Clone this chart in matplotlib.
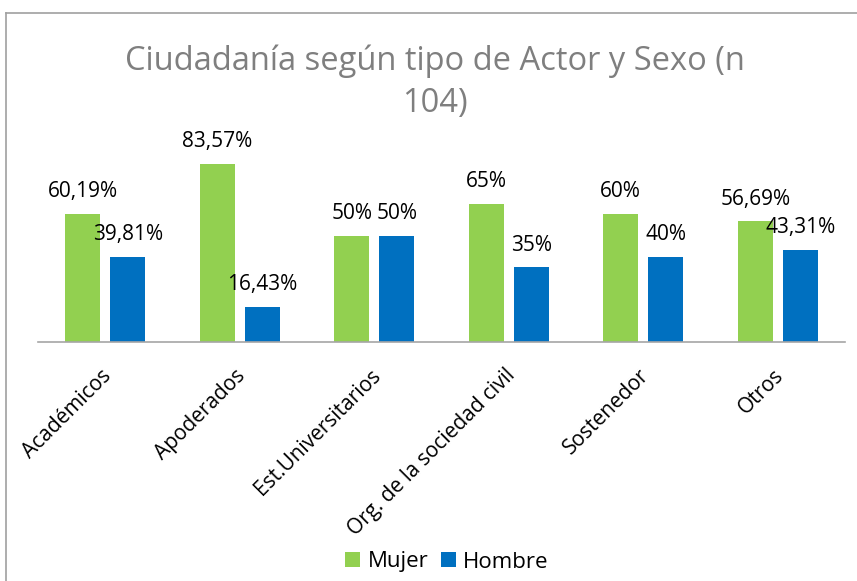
import matplotlib.pyplot as plt
from matplotlib.lines import Line2D
from matplotlib.transforms import ScaledTranslation
import numpy as np

categories = ['Académicos', 'Apoderados', 'Est.Universitarios',
              'Org. de la sociedad civil', 'Sostenedor', 'Otros']
mujer = [60.19, 83.57, 50, 65, 60, 56.69]
hombre = [39.81, 16.43, 50, 35, 40, 43.31]
mujer_labels = ['60,19%', '83,57%', '50%', '65%', '60%', '56,69%']
hombre_labels = ['39,81%', '16,43%', '50%', '35%', '40%', '43,31%']

plt.rcParams['font.family'] = ['Open Sans', 'DejaVu Sans']

fig = plt.figure(figsize=(8.57, 5.81), dpi=100)
ax = fig.add_axes([38 / 857, 1 - 342 / 581, 807 / 857, 191.7 / 581])

x = np.arange(len(categories))
w = 0.26
off = 0.167
b1 = ax.bar(x - off, mujer, w, color='#92D050', label='Mujer')
b2 = ax.bar(x + off, hombre, w, color='#0070C0', label='Hombre')

# data labels above each bar
for bars, labels in ((b1, mujer_labels), (b2, hombre_labels)):
    for bar, lab in zip(bars, labels):
        ax.annotate(lab, (bar.get_x() + bar.get_width() / 2, bar.get_height()),
                    xytext=(0, 16), textcoords='offset points',
                    ha='center', va='center', fontsize=15, color='black')

ax.set_xlim(-0.5, len(categories) - 0.5)
ax.set_ylim(0, 90)
ax.set_yticks([])
ax.set_xticks(x)
ax.set_xticklabels(categories, rotation=45, ha='right', va='center',
                   rotation_mode='anchor', fontsize=15)
ax.tick_params(axis='x', length=0, pad=22)
shift = ScaledTranslation(3 / 100, 0, fig.dpi_scale_trans)
for lbl in ax.get_xticklabels():
    lbl.set_transform(lbl.get_transform() + shift)
for s in ('top', 'right', 'left'):
    ax.spines[s].set_visible(False)
ax.spines['bottom'].set_color('#a6a6a6')
ax.spines['bottom'].set_linewidth(1.2)
ax.patch.set_alpha(0)

fig.text(435 / 857, 1 - 82.5 / 581, 'Ciudadanía según tipo de Actor y Sexo (n\n104)',
         ha='center', va='center', fontsize=23.5, color='#7f7f7f', linespacing=1.35)

fig.legend(handles=[b1, b2], labels=['Mujer', 'Hombre'], loc='center',
           bbox_to_anchor=(447 / 857, 1 - 562 / 581), ncol=2, frameon=False,
           fontsize=16, handlelength=0.68, handleheight=0.68,
           handletextpad=0.33, columnspacing=0.55)

# chart border (cut off at right and bottom)
fig.add_artist(Line2D([6 / 857, 6 / 857], [0, 1 - 13 / 581], color='#a0a0a0', lw=1.2))
fig.add_artist(Line2D([6 / 857, 1], [1 - 13 / 581, 1 - 13 / 581], color='#a0a0a0', lw=1.2))

fig.savefig('out.png', dpi=100)
